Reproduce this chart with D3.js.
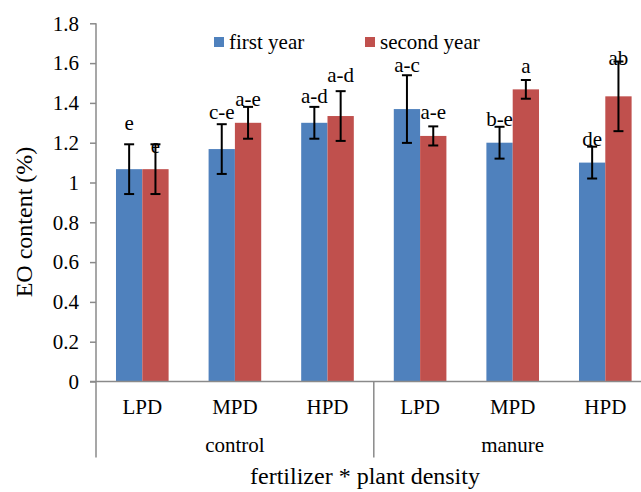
<!DOCTYPE html>
<html>
<head>
<meta charset="utf-8">
<script src="https://cdn.jsdelivr.net/npm/d3@7"></script>
<style>
  body { margin: 0; background: #fff; }
  svg { display: block; overflow: hidden; }
  svg text { font-family: "Liberation Serif", Tinos, "Times New Roman", Times, "DejaVu Serif", serif; fill: #000; }
</style>
</head>
<body>
<div id="chart"></div>
<script>
// data
const categories = ["LPD", "MPD", "HPD", "LPD", "MPD", "HPD"];
const groups = ["control", "manure"];
const seriesNames = ["first year", "second year"];
const firstYear = [1.067, 1.168, 1.30, 1.369, 1.20, 1.10];
const secondYear = [1.067, 1.30, 1.334, 1.234, 1.468, 1.433];
const firstErr = [0.125, 0.125, 0.08, 0.17, 0.08, 0.08];
const secondErr = [0.125, 0.08, 0.125, 0.048, 0.047, 0.175];
const firstLetters = ["e", "c-e", "a-d", "a-c", "b-e", "de"];
const secondLetters = ["e", "a-e", "a-d", "a-e", "a", "ab"];
// height (in % units) where each letter sits
const firstLetterAt = [1.265, 1.321, 1.399, 1.555, 1.282, 1.182];
const secondLetterAt = [1.148, 1.383, 1.505, 1.319, 1.552, 1.592];
const yTicks = [0, 0.2, 0.4, 0.6, 0.8, 1, 1.2, 1.4, 1.6, 1.8];

const W = 641, H = 492;
const colors = ["#4f81bd", "#c0504d"];
const axisColor = "#8a8a8a";

// plot area (right end is cut off by the picture edge, like the original)
const plotLeft = 96, plotRight = 651.6, plotTop = 23.3, plotBottom = 381.5;

const svg = d3.select("#chart")
    .append("svg")
    .attr("width", W)
    .attr("height", H);

const y = d3.scaleLinear().domain([0, 1.8]).range([plotBottom, plotTop]);

const x = d3.scaleBand()
    .domain(d3.range(categories.length))
    .range([plotLeft, plotRight])
    .padding(0);

const xInner = d3.scaleBand()
    .domain([0, 1])
    .range([0, x.bandwidth()])
    .paddingInner(0)
    .paddingOuter(0.76);

const rows = categories.map((c, i) => ({
    i,
    vals: [firstYear[i], secondYear[i]],
    errs: [firstErr[i], secondErr[i]],
    letters: [firstLetters[i], secondLetters[i]],
    letterAt: [firstLetterAt[i], secondLetterAt[i]]
}));

const bars = rows.flatMap(r => r.vals.map((v, s) => ({
    i: r.i, s, v, e: r.errs[s], letter: r.letters[s], at: r.letterAt[s]
})));

// bars
svg.append("g")
    .selectAll("rect")
    .data(bars)
    .join("rect")
    .attr("x", d => x(d.i) + xInner(d.s))
    .attr("y", d => y(d.v))
    .attr("width", xInner.bandwidth())
    .attr("height", d => y(0) - y(d.v))
    .attr("fill", d => colors[d.s]);

// error bars
const eb = svg.append("g")
    .attr("stroke", "#000")
    .attr("stroke-width", 2)
    .selectAll("g")
    .data(bars)
    .join("g")
    .attr("transform", d => `translate(${x(d.i) + xInner(d.s) + xInner.bandwidth() / 2},0)`);

eb.append("line")
    .attr("y1", d => y(d.v + d.e))
    .attr("y2", d => y(d.v - d.e));
eb.append("line")
    .attr("x1", -5).attr("x2", 5)
    .attr("y1", d => y(d.v + d.e))
    .attr("y2", d => y(d.v + d.e));
eb.append("line")
    .attr("x1", -5).attr("x2", 5)
    .attr("y1", d => y(d.v - d.e))
    .attr("y2", d => y(d.v - d.e));

// letters
svg.append("g")
    .selectAll("text")
    .data(bars)
    .join("text")
    .attr("x", d => x(d.i) + xInner(d.s) + xInner.bandwidth() / 2)
    .attr("y", d => y(d.at))
    .attr("text-anchor", "middle")
    .style("font-size", "21px")
    .text(d => d.letter);

// y axis
const yAxis = svg.append("g")
    .attr("transform", `translate(${plotLeft},0)`)
    .call(d3.axisLeft(y)
        .tickValues(yTicks)
        .tickFormat(d => String(+d.toFixed(1)))
        .tickSize(6)
        .tickPadding(11));
yAxis.attr("font-family", null).attr("font-size", null);
yAxis.select(".domain").remove();
yAxis.selectAll("line").attr("stroke", axisColor).attr("stroke-width", 1.5);
yAxis.selectAll("text")
    .attr("fill", "#000")
    .style("font-size", "21px");

// axis lines
const axisG = svg.append("g")
    .attr("stroke", axisColor)
    .attr("stroke-width", 1.5);
axisG.append("line")
    .attr("x1", plotLeft).attr("x2", plotLeft)
    .attr("y1", plotTop).attr("y2", 457.5);
axisG.append("line")
    .attr("x1", plotLeft - 6).attr("x2", plotRight)
    .attr("y1", plotBottom).attr("y2", plotBottom);
axisG.selectAll(".div")
    .data([3, 6])
    .join("line")
    .attr("class", "div")
    .attr("x1", d => x(d - 1) + x.bandwidth())
    .attr("x2", d => x(d - 1) + x.bandwidth())
    .attr("y1", plotBottom).attr("y2", 457.5);

// category labels
svg.append("g")
    .selectAll("text")
    .data(categories)
    .join("text")
    .attr("x", (d, i) => x(i) + x.bandwidth() / 2)
    .attr("y", 413.5)
    .attr("text-anchor", "middle")
    .style("font-size", "21px")
    .text(d => d);

// group labels
svg.append("g")
    .selectAll("text")
    .data(groups)
    .join("text")
    .attr("x", (d, g) => x(g * 3) + 1.5 * x.bandwidth())
    .attr("y", 452)
    .attr("text-anchor", "middle")
    .style("font-size", "21px")
    .text(d => d);

// axis titles
svg.append("text")
    .attr("x", 365)
    .attr("y", 484)
    .attr("text-anchor", "middle")
    .style("font-size", "24px")
    .text("fertilizer * plant density");

svg.append("text")
    .attr("transform", "translate(32,222) rotate(-90)")
    .attr("text-anchor", "middle")
    .style("font-size", "24px")
    .text("EO content (%)");

// legend
const legendX = [214, 365];
const legend = svg.append("g")
    .selectAll("g")
    .data(seriesNames)
    .join("g")
    .attr("transform", (d, i) => `translate(${legendX[i]},37)`);
legend.append("rect")
    .attr("width", 10).attr("height", 10)
    .attr("fill", (d, i) => colors[i]);
legend.append("text")
    .attr("x", 15)
    .attr("y", 11.5)
    .style("font-size", "21px")
    .text(d => d);
</script>
</body>
</html>
